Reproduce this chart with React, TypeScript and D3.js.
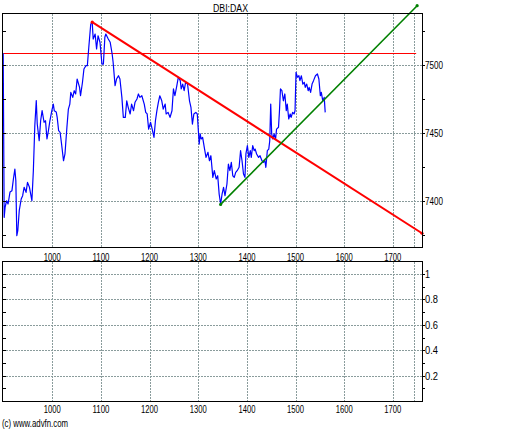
import React from "react";
import * as d3 from "d3";

const times = [
  899, 901, 903, 906, 909, 913, 917, 920, 923, 925,
  927, 929, 932, 936, 939, 942, 946, 949, 953, 958,
  961, 964, 967, 969, 973, 976, 979, 983, 986, 989,
  992, 995, 999, 1002, 1004, 1008, 1010, 1013, 1016, 1019,
  1023, 1026, 1030, 1033, 1036, 1038, 1042, 1045, 1048, 1051,
  1056, 1058, 1062, 1065, 1069, 1072, 1075, 1079, 1082, 1084,
  1088, 1091, 1094, 1098, 1102, 1105, 1108, 1110, 1115, 1119,
  1123, 1125, 1129, 1132, 1136, 1139, 1143, 1146, 1150, 1153,
  1156, 1160, 1163, 1167, 1170, 1174, 1177, 1180, 1184, 1189,
  1192, 1195, 1198, 1202, 1206, 1209, 1212, 1215, 1218, 1221,
  1225, 1228, 1232, 1234, 1238, 1242, 1246, 1249, 1252, 1256,
  1259, 1263, 1265, 1268, 1271, 1274, 1278, 1282, 1285, 1288,
  1291, 1295, 1298, 1302, 1304, 1306, 1309, 1313, 1316, 1320,
  1323, 1326, 1330, 1333, 1337, 1340, 1343, 1346, 1349, 1352,
  1355, 1359, 1362, 1365, 1368, 1371, 1374, 1377, 1380, 1384,
  1387, 1390, 1393, 1396, 1398, 1401, 1404, 1407, 1409, 1412,
  1415, 1417, 1420, 1424, 1427, 1431, 1434, 1437, 1439, 1442,
  1445, 1447, 1449, 1451, 1453, 1456, 1459, 1461, 1465, 1467,
  1469, 1472, 1475, 1478, 1481, 1483, 1486, 1489, 1491, 1494,
  1497, 1499, 1501, 1504, 1507, 1509, 1512, 1515, 1518, 1520,
  1523, 1526, 1528, 1531, 1534, 1537, 1541, 1545, 1548, 1551,
  1553, 1556, 1559, 1561,
];

const prices = [
  7508.6, 7388.0, 7395.6, 7400.2, 7397.8, 7406.6, 7407.6, 7416.2, 7423.5, 7414.9,
  7374.5, 7378.2, 7392.9, 7401.5, 7403.9, 7410.1, 7406.4, 7413.7, 7410.1, 7400.2,
  7422.3, 7455.4, 7473.8, 7456.6, 7444.3, 7459.0, 7466.4, 7457.9, 7459.0, 7445.6,
  7451.7, 7459.0, 7466.4, 7471.3, 7466.4, 7465.5, 7461.5, 7451.7, 7450.5, 7441.9,
  7429.6, 7434.6, 7454.2, 7467.6, 7471.3, 7479.9, 7476.2, 7481.1, 7478.7, 7489.7,
  7483.6, 7477.4, 7487.3, 7497.1, 7499.5, 7499.5, 7513.0, 7530.1, 7531.4, 7519.1,
  7522.8, 7511.8, 7521.5, 7516.7, 7500.7, 7500.7, 7520.4, 7522.8, 7519.1, 7516.7,
  7508.1, 7502.0, 7484.8, 7489.7, 7492.1, 7489.7, 7476.2, 7461.5, 7461.5, 7473.7,
  7468.9, 7464.0, 7471.3, 7466.4, 7472.6, 7475.0, 7478.7, 7476.2, 7477.4, 7471.3,
  7465.2, 7464.0, 7452.9, 7457.9, 7451.7, 7446.8, 7459.0, 7466.4, 7472.6, 7477.4,
  7473.7, 7467.6, 7471.3, 7464.0, 7465.2, 7461.5, 7466.4, 7482.4, 7477.4, 7484.8,
  7491.0, 7488.5, 7482.4, 7486.0, 7481.1, 7487.3, 7486.0, 7473.7, 7468.9, 7456.6,
  7464.0, 7465.2, 7464.0, 7441.9, 7449.3, 7445.6, 7446.8, 7438.2, 7432.1, 7435.8,
  7429.6, 7433.3, 7417.4, 7422.3, 7416.2, 7418.6, 7405.1, 7397.8, 7405.1, 7410.1,
  7403.9, 7412.5, 7427.2, 7422.3, 7428.5, 7418.6, 7417.4, 7421.1, 7422.3, 7424.8,
  7437.0, 7429.6, 7419.9, 7417.4, 7434.6, 7440.7, 7432.1, 7437.0, 7432.1, 7440.7,
  7437.0, 7438.2, 7434.6, 7432.1, 7433.3, 7429.6, 7428.5, 7429.6, 7424.8, 7437.0,
  7438.2, 7444.3, 7471.3, 7449.3, 7445.6, 7449.3, 7445.6, 7452.9, 7454.2, 7466.4,
  7482.4, 7481.1, 7473.7, 7478.7, 7466.4, 7471.3, 7460.3, 7464.0, 7461.5, 7465.2,
  7464.0, 7466.4, 7494.6, 7491.0, 7492.1, 7488.5, 7492.1, 7486.0, 7487.3, 7483.6,
  7486.0, 7481.1, 7483.6, 7479.9, 7486.0, 7488.5, 7492.1, 7493.4, 7489.7, 7477.4,
  7479.9, 7473.7, 7476.2, 7465.2,
];

const xTicks = [1000, 1100, 1200, 1300, 1400, 1500, 1600, 1700];
const extraVLine = 1744;
const priceTicks = [7400, 7450, 7500];
const priceMinorTicks = [7375, 7400, 7425, 7450, 7475, 7500, 7525];
const lowerTicks = [0.2, 0.4, 0.6, 0.8, 1];
const lowerMinorTicks = [0.1, 0.2, 0.3, 0.4, 0.5, 0.6, 0.7, 0.8, 0.9, 1.0];
const prevClose = { value: 7508.6, from: 899, to: 1748 };
const redTrend: [number, number][] = [[1082, 7531.5], [1760, 7376.3]];
const greenTrend: [number, number][] = [[1346, 7397.5], [1750, 7543.6]];
const title = "DBI:DAX";
const credit = "(c) www.advfn.com";

const L = 3, R = 422;
const T1 = 14, B1 = 247;
const T2 = 262, B2 = 401;

export default function App() {
  const x = d3.scaleLinear().domain([898.6, 1760]).range([L, R]);
  const y = d3.scaleLinear().domain([7366.2, 7537.5]).range([B1, T1]);
  const y2 = d3.scaleLinear().domain([0, 1.095]).range([B2, T2]);

  const series = times.map((t, i) => [t, prices[i]] as [number, number]);
  const line = d3.line<[number, number]>().x((d) => x(d[0])).y((d) => y(d[1]));

  const font = "Liberation Sans, Arial, sans-serif";
  const gridStyle = { stroke: "#8a9c9c", strokeDasharray: "2 1", strokeWidth: 1 };

  const vGrid = (top: number, bottom: number) =>
    [...xTicks, extraVLine].map((t) => (
      <line key={"v" + t} x1={Math.round(x(t)) + 0.5} x2={Math.round(x(t)) + 0.5} y1={top} y2={bottom} style={gridStyle} />
    ));

  return (
    <svg width={512} height={430} style={{ position: "absolute", left: 0, top: 0, background: "#fff" }} fontFamily={font}>
      <rect x={0} y={0} width={512} height={430} fill="#fff" />
      {/* Title */}
      <text x={213} y={11.5} fontSize={10} textLength={35} lengthAdjust="spacingAndGlyphs" fill="#000">{title}</text>

      {/* Upper panel grid */}
      {vGrid(T1, B1)}
      {priceTicks.map((v) => (
        <line key={"h" + v} x1={L} x2={R} y1={Math.round(y(v)) + 0.5} y2={Math.round(y(v)) + 0.5} style={gridStyle} />
      ))}

      {/* Lower panel grid */}
      {vGrid(T2, B2)}
      {lowerTicks.map((v) => (
        <line key={"h2" + v} x1={L} x2={R} y1={Math.round(y2(v)) + 0.5} y2={Math.round(y2(v)) + 0.5} style={gridStyle} />
      ))}

      {/* Previous close line */}
      <line x1={x(prevClose.from)} x2={x(prevClose.to)} y1={Math.round(y(prevClose.value)) + 0.5} y2={Math.round(y(prevClose.value)) + 0.5} stroke="#ff0000" strokeWidth={1} />

      {/* Price line */}
      <path d={line(series) || ""} fill="none" stroke="#0000ff" strokeWidth={1.2} strokeLinejoin="round" />

      {/* Trend lines */}
      <path d={line(redTrend) || ""} fill="none" stroke="#ff0000" strokeWidth={2} />
      {redTrend.map((p, i) => (
        <circle key={"rd" + i} cx={x(p[0])} cy={y(p[1])} r={1.6} fill="#ff0000" />
      ))}
      <path d={line(greenTrend) || ""} fill="none" stroke="#008000" strokeWidth={1.6} />
      {greenTrend.map((p, i) => (
        <circle key={"gd" + i} cx={x(p[0])} cy={y(p[1])} r={1.6} fill="#008000" />
      ))}

      {/* Frames */}
      <rect x={L - 0.5} y={T1 - 0.5} width={R - L + 1} height={B1 - T1 + 1} fill="none" stroke="#000" strokeWidth={1} />
      <rect x={L - 0.5} y={T2 - 0.5} width={R - L + 1} height={B2 - T2 + 1} fill="none" stroke="#000" strokeWidth={1} />

      {/* Upper panel ticks */}
      {priceMinorTicks.map((v) => (
        <g key={"pt" + v}>
          <line x1={L} x2={L + 3} y1={Math.round(y(v)) + 0.5} y2={Math.round(y(v)) + 0.5} stroke="#000" />
          <line x1={R} x2={R + 3} y1={Math.round(y(v)) + 0.5} y2={Math.round(y(v)) + 0.5} stroke="#000" />
        </g>
      ))}
      {priceTicks.map((v) => (
        <text key={"pl" + v} x={425} y={y(v) + 4} fontSize={10} textLength={18} lengthAdjust="spacingAndGlyphs" fill="#000">{v}</text>
      ))}

      {/* Lower panel ticks */}
      {lowerMinorTicks.map((v) => (
        <g key={"lt" + v}>
          <line x1={L} x2={L + 3} y1={Math.round(y2(v)) + 0.5} y2={Math.round(y2(v)) + 0.5} stroke="#000" />
          <line x1={R} x2={R + 3} y1={Math.round(y2(v)) + 0.5} y2={Math.round(y2(v)) + 0.5} stroke="#000" />
        </g>
      ))}
      {lowerTicks.map((v) => {
        const s = v === 1 ? "1" : String(v);
        return (
          <text key={"ll" + v} x={425} y={y2(v) + 4} fontSize={10} textLength={s.length === 1 ? 5 : 13} lengthAdjust="spacingAndGlyphs" fill="#000">{s}</text>
        );
      })}

      {/* X labels */}
      {xTicks.map((t) => (
        <g key={"xl" + t}>
          <text x={x(t)} y={260.5} fontSize={10} textAnchor="middle" textLength={17} lengthAdjust="spacingAndGlyphs" fill="#000">{t}</text>
          <text x={x(t)} y={412.5} fontSize={10} textAnchor="middle" textLength={17} lengthAdjust="spacingAndGlyphs" fill="#000">{t}</text>
        </g>
      ))}

      <text x={2} y={426.5} fontSize={10} textLength={66} lengthAdjust="spacingAndGlyphs" fill="#000">{credit}</text>
    </svg>
  );
}
